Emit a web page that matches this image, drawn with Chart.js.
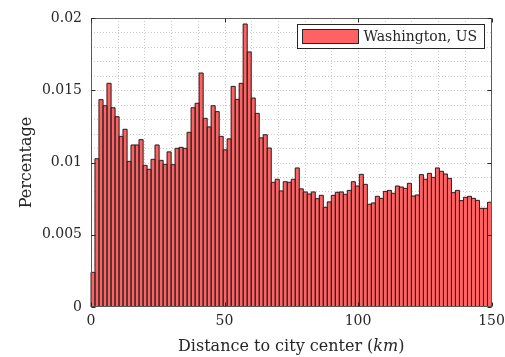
<!DOCTYPE html>
<html>
<head>
<meta charset="utf-8">
<script src="https://cdn.jsdelivr.net/npm/chart.js@4/dist/chart.umd.min.js"></script>
<style>
  html, body { margin: 0; padding: 0; background: #ffffff; }
  #wrap { width: 505px; height: 357px; }
</style>
</head>
<body>
<div id="wrap"><canvas id="c" width="505" height="357"></canvas></div>
<script>
// ---- data ----
const seriesLabel = 'Washington, US';
const binStartKm = [0,1.5,3,4.5,6,7.5,9,10.5,12,13.5,15,16.5,18,19.5,21,22.5,24,25.5,27,28.5,
  30,31.5,33,34.5,36,37.5,39,40.5,42,43.5,45,46.5,48,49.5,51,52.5,54,55.5,57,58.5,
  60,61.5,63,64.5,66,67.5,69,70.5,72,73.5,75,76.5,78,79.5,81,82.5,84,85.5,87,88.5,
  90,91.5,93,94.5,96,97.5,99,100.5,102,103.5,105,106.5,108,109.5,111,112.5,114,115.5,117,118.5,
  120,121.5,123,124.5,126,127.5,129,130.5,132,133.5,135,136.5,138,139.5,141,142.5,144,145.5,147,148.5];
const percentage = [
  0.0024, 0.01026, 0.01435, 0.01393, 0.01548, 0.01379, 0.01317, 0.01181, 0.0123, 0.01008,
  0.01121, 0.01121, 0.01158, 0.0098, 0.00953, 0.01022, 0.01121, 0.01015, 0.00987, 0.01073,
  0.00985, 0.01098, 0.01105, 0.01098, 0.01209, 0.01379, 0.0141, 0.01619, 0.01306, 0.01246,
  0.01393, 0.01352, 0.01181, 0.01087, 0.01163, 0.01527, 0.01437, 0.01548, 0.01958, 0.01765,
  0.01446, 0.0134, 0.0117, 0.01192, 0.011, 0.00863, 0.00884, 0.00803, 0.00867, 0.00863,
  0.00884, 0.00962, 0.00817, 0.00796, 0.00782, 0.00796, 0.0075, 0.00773, 0.0069, 0.00727,
  0.00773, 0.00794, 0.00796, 0.0078, 0.00807, 0.00867, 0.00837, 0.00918, 0.00849, 0.00711,
  0.0072, 0.00766, 0.00752, 0.008, 0.00807, 0.00787, 0.00837, 0.0083, 0.00821, 0.00856,
  0.00768, 0.00775, 0.00916, 0.00884, 0.00925, 0.00897, 0.00962, 0.00939, 0.0092, 0.0089,
  0.00791, 0.00807, 0.00736, 0.00759, 0.00766, 0.00752, 0.00738, 0.00683, 0.00683, 0.00725];
const xTickValues = [0, 50, 100, 150];
const yTickValues = [0, 0.005, 0.01, 0.015, 0.02];
const yTickLabels = ['0', '0.005', '0.01', '0.015', '0.02'];
const xTitleParts = ['Distance to city center (', 'km', ')'];
const yTitle = 'Percentage';

// ---- styles ----
const SERIF = '"DejaVu Serif", serif';
const TEXT = '#262626';
const BAR_FILL = '#ff6262';
const BAR_EDGE = '#262626';

function matchTick(list, v) {
  for (let i = 0; i < list.length; i++) if (Math.abs(list[i] - v) < 1e-9) return i;
  return -1;
}

const framePlugin = {
  id: 'frame',
  beforeDatasetsDraw(chart) {
    const {ctx, chartArea: a, scales} = chart;
    ctx.save();
    ctx.strokeStyle = '#cacaca';
    ctx.lineWidth = 1;
    ctx.setLineDash([1, 2]);
    scales.xt.ticks.forEach(t => {
      const x = Math.round(scales.xt.getPixelForValue(t.value)) + 0.5;
      if (x <= a.left + 1 || x >= a.right - 1) return;
      ctx.beginPath(); ctx.moveTo(x, a.top); ctx.lineTo(x, a.bottom); ctx.stroke();
    });
    scales.y.ticks.forEach(t => {
      const y = Math.round(scales.y.getPixelForValue(t.value)) + 0.5;
      if (y <= a.top + 1 || y >= a.bottom - 1) return;
      ctx.beginPath(); ctx.moveTo(a.left, y); ctx.lineTo(a.right, y); ctx.stroke();
    });
    ctx.restore();
  },
  afterDatasetsDraw(chart) {
    const {ctx, chartArea: a, scales} = chart;
    ctx.save();
    // bar outlines (shared edges)
    ctx.strokeStyle = BAR_EDGE;
    ctx.lineWidth = 1;
    const meta = chart.getDatasetMeta(0);
    meta.data.forEach(el => {
      const p = el.getProps(['x', 'y', 'base', 'width'], true);
      const l = p.x - p.width / 2, r = p.x + p.width / 2;
      ctx.beginPath();
      ctx.moveTo(l, p.base); ctx.lineTo(l, p.y); ctx.lineTo(r, p.y); ctx.lineTo(r, p.base);
      ctx.stroke();
    });
    // axes box
    ctx.strokeStyle = '#5a5a5a';
    ctx.lineWidth = 1;
    const L = Math.round(a.left) + 0.5, R = Math.round(a.right) - 0.5;
    const T = Math.round(a.top) + 0.5, B = Math.round(a.bottom) - 0.5;
    ctx.strokeRect(L, T, R - L, B - T);
    // inward major tick marks
    ctx.strokeStyle = '#262626';
    const tl = 4;
    xTickValues.forEach(v => {
      const x = Math.round(scales.xt.getPixelForValue(v)) + 0.5;
      ctx.beginPath(); ctx.moveTo(x, B); ctx.lineTo(x, B - tl); ctx.stroke();
      ctx.beginPath(); ctx.moveTo(x, T); ctx.lineTo(x, T + tl); ctx.stroke();
    });
    yTickValues.forEach(v => {
      const y = Math.round(scales.y.getPixelForValue(v)) + 0.5;
      ctx.beginPath(); ctx.moveTo(L, y); ctx.lineTo(L + tl, y); ctx.stroke();
      ctx.beginPath(); ctx.moveTo(R, y); ctx.lineTo(R - tl, y); ctx.stroke();
    });
    // legend
    ctx.font = '14px ' + SERIF;
    const label = chart.data.datasets[0].label;
    const tw = ctx.measureText(label).width;
    const boxR = Math.round(a.right - 8) + 0.5;
    const boxT = Math.round(a.top + 6) + 0.5;
    const boxH = 24;
    const swW = 56, swH = 14;
    const boxL = Math.round(boxR - (5 + swW + 5 + tw + 8)) + 0.5;
    ctx.fillStyle = '#ffffff';
    ctx.fillRect(boxL, boxT, boxR - boxL, boxH);
    ctx.strokeStyle = '#262626';
    ctx.strokeRect(boxL, boxT, boxR - boxL, boxH);
    const swL = boxL + 5, swT = boxT + (boxH - swH) / 2;
    ctx.fillStyle = BAR_FILL;
    ctx.fillRect(swL, swT, swW, swH);
    ctx.strokeStyle = BAR_EDGE;
    ctx.strokeRect(swL, swT, swW, swH);
    ctx.fillStyle = TEXT;
    ctx.textBaseline = 'middle';
    ctx.textAlign = 'left';
    ctx.fillText(label, swL + swW + 5, boxT + boxH / 2 + 1);
    // x-axis title with italic unit
    const fN = '16px ' + SERIF, fI = 'italic 16px ' + SERIF;
    ctx.font = fN; const w0 = ctx.measureText(xTitleParts[0]).width;
    ctx.font = fI; const w1 = ctx.measureText(xTitleParts[1]).width;
    ctx.font = fN; const w2 = ctx.measureText(xTitleParts[2]).width;
    let x = (a.left + a.right) / 2 - (w0 + w1 + w2) / 2;
    const ty = 347;
    ctx.font = fN; ctx.fillText(xTitleParts[0], x, ty); x += w0;
    ctx.font = fI; ctx.fillText(xTitleParts[1], x, ty); x += w1;
    ctx.font = fN; ctx.fillText(xTitleParts[2], x, ty);
    ctx.restore();
  }
};

new Chart(document.getElementById('c'), {
  type: 'bar',
  data: {
    labels: binStartKm,
    datasets: [{
      label: seriesLabel,
      data: percentage,
      backgroundColor: BAR_FILL,
      borderWidth: 0,
      barPercentage: 1.0,
      categoryPercentage: 1.0,
      xAxisID: 'x',
      yAxisID: 'y'
    }]
  },
  options: {
    responsive: false,
    animation: false,
    devicePixelRatio: 1,
    layout: { padding: { left: 0, top: 18, right: 13.5, bottom: 0 } },
    plugins: { legend: { display: false }, tooltip: { enabled: false }, title: { display: false } },
    scales: {
      x: {
        type: 'category',
        display: false,
        offset: true,
        grid: { display: false }
      },
      xt: {
        type: 'linear',
        axis: 'x',
        position: 'bottom',
        offset: false,
        min: 0,
        max: 150,
        grid: { display: false, drawTicks: false, offset: false },
        border: { display: false },
        ticks: {
          stepSize: 10,
          maxTicksLimit: 100,
          autoSkip: false,
          maxRotation: 0,
          padding: 6,
          color: TEXT,
          font: { family: SERIF, size: 14 },
          callback: v => (matchTick(xTickValues, v) >= 0 ? String(v) : '')
        },
        afterFit: s => { s.height = 50; s.paddingLeft = 0; s.paddingRight = 0; }
      },
      y: {
        type: 'linear',
        position: 'left',
        min: 0,
        max: 0.02,
        grid: { display: false, drawTicks: false },
        border: { display: false },
        ticks: {
          stepSize: 0.001,
          maxTicksLimit: 100,
          autoSkip: false,
          padding: 9,
          color: TEXT,
          font: { family: SERIF, size: 14 },
          callback: v => { const i = matchTick(yTickValues, v); return i >= 0 ? yTickLabels[i] : ''; }
        },
        title: {
          display: true,
          text: yTitle,
          color: TEXT,
          font: { family: SERIF, size: 16 },
          padding: { top: 17.4, bottom: 0 }
        },
        afterFit: s => { s.width = 91; s.paddingTop = 0; s.paddingBottom = 0; }
      }
    }
  },
  plugins: [framePlugin]
});
</script>
</body>
</html>
